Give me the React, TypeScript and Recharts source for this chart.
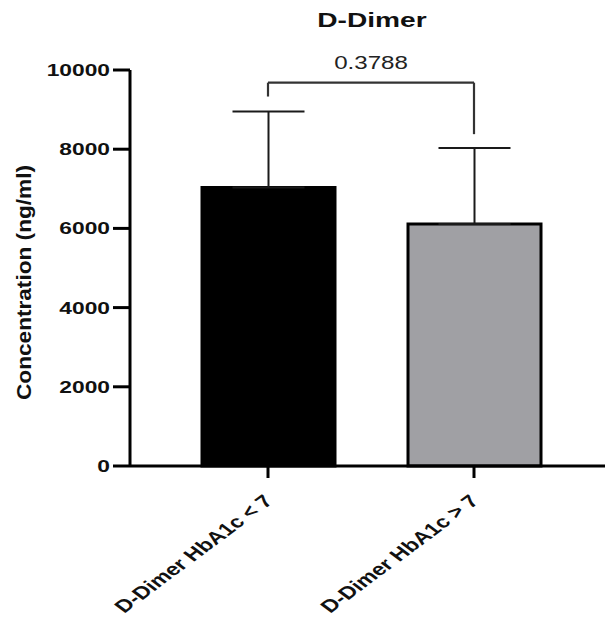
import React from 'react';
import { BarChart, Bar, XAxis, YAxis, ErrorBar, Cell, ReferenceLine } from 'recharts';

const categories = ['D-Dimer HbA1c < 7', 'D-Dimer HbA1c > 7'];
const means = [7030, 6110];
const errUpper = [1920, 1920];
const barColors = ['#000000', '#a0a0a4'];
const yTicks = [0, 2000, 4000, 6000, 8000, 10000];
const bracketTop = 9680;
const bracketLegEnds = [9330, 8380];
const pValue = '0.3788';
const title = 'D-Dimer';
const yLabel = 'Concentration (ng/ml)';

const data = categories.map((c, i) => ({ name: c, mean: means[i], err: [0, errUpper[i]] }));

const FONT = '"Liberation Sans", Arial, sans-serif';
const SX = 1.34;

const YTick = (props: any) => {
  const { x, y, payload } = props;
  return (
    <g transform={`translate(${x},${y}) scale(${SX},1)`}>
      <text x={0} y={0} dy={6} textAnchor="end" fontSize={17} fontWeight="bold" fontFamily={FONT} fill="#111">
        {payload.value}
      </text>
    </g>
  );
};

const XTick = (props: any) => {
  const { x, y, payload } = props;
  return (
    <g transform={`translate(${x + 6},${y + 22}) scale(${SX},1) rotate(-45)`}>
      <text x={0} y={0} textAnchor="end" fontSize={17.5} fontWeight="bold" fontFamily={FONT} fill="#111">
        {payload.value}
      </text>
    </g>
  );
};

const PLabel = (props: any) => {
  const vb = props.viewBox || {};
  let cx: number, cy: number;
  if (vb.x1 !== undefined) {
    cx = (vb.x1 + vb.x2) / 2;
    cy = Math.min(vb.y1, vb.y2);
  } else {
    cx = vb.x + (vb.width || 0) / 2;
    cy = vb.y;
  }
  return (
    <g transform={`translate(${cx},${cy - 14}) scale(${SX},1)`}>
      <text x={0} y={0} textAnchor="middle" fontSize={18} fontFamily={FONT} fill="#222">
        {pValue}
      </text>
    </g>
  );
};

export default function App() {
  return (
    <div style={{ position: 'absolute', left: 0, top: 0, width: 607, height: 622, background: '#fff' }}>
      <BarChart width={607} height={622} data={data} margin={{ top: 70, right: 2, left: 0, bottom: 0 }}>
        <XAxis
          dataKey="name"
          interval={0}
          height={156}
          padding={{ left: 35, right: 28 }}
          axisLine={{ stroke: '#000', strokeWidth: 3 }}
          tickLine={{ stroke: '#000', strokeWidth: 3 }}
          tickSize={12}
          tick={<XTick />}
        />
        <YAxis
          width={130}
          domain={[0, 10000]}
          ticks={yTicks}
          interval={0}
          axisLine={{ stroke: '#000', strokeWidth: 3 }}
          tickLine={{ stroke: '#000', strokeWidth: 3 }}
          tickSize={17}
          tickMargin={3}
          tick={<YTick />}
        />
        <Bar dataKey="mean" barSize={133} stroke="#000" strokeWidth={3} isAnimationActive={false}>
          {data.map((d, i) => (
            <Cell key={d.name} fill={barColors[i]} />
          ))}
          <ErrorBar dataKey="err" direction="y" width={36} stroke="#1a1a1a" strokeWidth={2} isAnimationActive={false} />
        </Bar>
        <ReferenceLine
          segment={[{ x: categories[0], y: bracketTop }, { x: categories[1], y: bracketTop }]}
          stroke="#333"
          strokeWidth={2.2}
          label={<PLabel />}
        />
        <ReferenceLine
          segment={[{ x: categories[0], y: bracketTop }, { x: categories[0], y: bracketLegEnds[0] }]}
          stroke="#333"
          strokeWidth={2.2}
        />
        <ReferenceLine
          segment={[{ x: categories[1], y: bracketTop }, { x: categories[1], y: bracketLegEnds[1] }]}
          stroke="#333"
          strokeWidth={2.2}
        />
      </BarChart>
      <svg width={607} height={622} style={{ position: 'absolute', left: 0, top: 0, pointerEvents: 'none' }}>
        <g transform={`translate(372,27) scale(${SX},1)`}>
          <text x={0} y={0} textAnchor="middle" fontSize={21} fontWeight="bold" fontFamily={FONT} fill="#111">
            {title}
          </text>
        </g>
        <text
          transform="translate(31,282.5) rotate(-90)"
          x={0}
          y={0}
          textAnchor="middle"
          fontSize={21}
          fontWeight="bold"
          fontFamily={FONT}
          fill="#111"
          textLength={235}
          lengthAdjust="spacingAndGlyphs"
        >
          {yLabel}
        </text>
      </svg>
    </div>
  );
}
